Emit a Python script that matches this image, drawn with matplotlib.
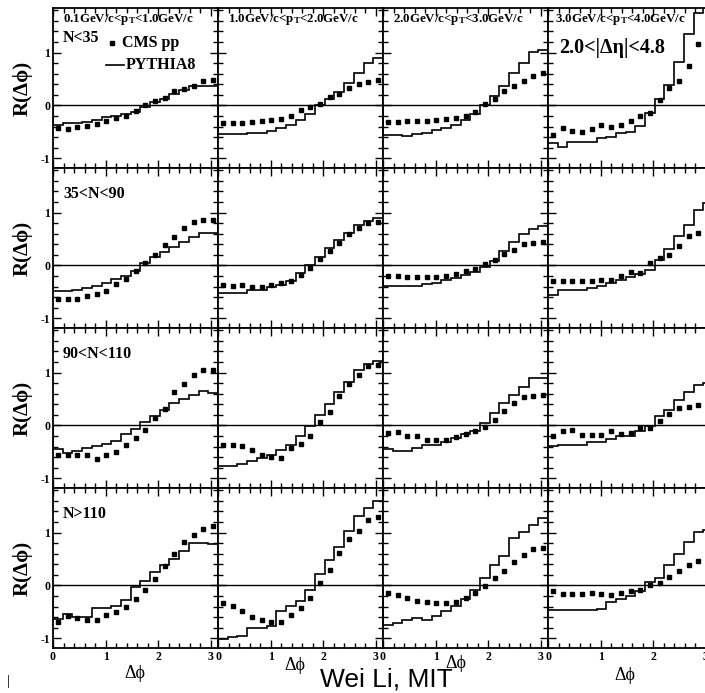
import numpy as np
import matplotlib
matplotlib.use("Agg")
import matplotlib.pyplot as plt
from matplotlib.ticker import MultipleLocator, FixedLocator

plt.rcParams['font.family'] = ['Liberation Serif', 'DejaVu Serif']
plt.rcParams['font.weight'] = 'bold'
plt.rcParams['axes.unicode_minus'] = False
plt.rcParams['mathtext.fontset'] = 'custom'
plt.rcParams['mathtext.rm'] = 'Liberation Serif:bold'
plt.rcParams['mathtext.bf'] = 'Liberation Serif:bold'
plt.rcParams['mathtext.it'] = 'Liberation Serif:bold:italic'

# ---------------- data ----------------
n_bins = 17
dphi_edges = np.linspace(0.0, np.pi, n_bins + 1)
dphi_centers = 0.5 * (dphi_edges[:-1] + dphi_edges[1:])

pt_labels = ["0.1GeV/c<p$_{\\rm T}$<1.0GeV/c", "1.0GeV/c<p$_{\\rm T}$<2.0GeV/c",
             "2.0GeV/c<p$_{\\rm T}$<3.0GeV/c", "3.0GeV/c<p$_{\\rm T}$<4.0GeV/c"]
mult_labels = ["N<35", "35<N<90", "90<N<110", "N>110"]
eta_label = "2.0<|\u0394\u03b7|<4.8"
dphi_text = "\u0394\u03d5"
ylabel_text = "R(\u0394\u03d5)"

# row 1 : N<35
cms_r1_c1 = [-0.43, -0.44, -0.41, -0.39, -0.35, -0.29, -0.23, -0.19, -0.11, 0.01, 0.09, 0.14, 0.28, 0.31, 0.36, 0.46, 0.48]
py_r1_c1 = [-0.37, -0.34, -0.34, -0.31, -0.28, -0.22, -0.19, -0.17, -0.12, -0.02, 0.06, 0.12, 0.22, 0.29, 0.37, 0.37, 0.37]
cms_r1_c2 = [-0.34, -0.33, -0.33, -0.31, -0.29, -0.28, -0.25, -0.19, -0.09, -0.03, 0.03, 0.16, 0.22, 0.33, 0.40, 0.45, 0.49]
py_r1_c2 = [-0.54, -0.54, -0.54, -0.52, -0.52, -0.48, -0.43, -0.37, -0.27, -0.16, 0.00, 0.12, 0.25, 0.42, 0.62, 0.80, 0.90]
cms_r1_c3 = [-0.31, -0.31, -0.30, -0.30, -0.29, -0.28, -0.26, -0.23, -0.19, -0.12, 0.02, 0.12, 0.27, 0.37, 0.47, 0.56, 0.62]
py_r1_c3 = [-0.55, -0.55, -0.57, -0.54, -0.52, -0.47, -0.43, -0.37, -0.28, -0.17, 0.01, 0.18, 0.37, 0.62, 0.81, 1.01, 1.04]
cms_r1_c4 = [-0.55, -0.43, -0.49, -0.50, -0.44, -0.37, -0.40, -0.36, -0.30, -0.19, -0.15, 0.10, 0.33, 0.47, 0.75, 1.16, 1.16]
py_r1_c4 = [-0.70, -0.78, -0.68, -0.68, -0.68, -0.62, -0.60, -0.52, -0.50, -0.38, -0.15, 0.12, 0.38, 0.82, 1.35, 1.75, 1.90]

# row 2 : 35<N<90
cms_r2_c1 = [-0.63, -0.63, -0.63, -0.57, -0.54, -0.48, -0.35, -0.25, -0.10, 0.05, 0.19, 0.38, 0.54, 0.70, 0.83, 0.86, 0.86]
py_r2_c1 = [-0.48, -0.48, -0.46, -0.43, -0.38, -0.33, -0.26, -0.19, -0.10, 0.05, 0.16, 0.25, 0.35, 0.44, 0.54, 0.62, 0.62]
cms_r2_c2 = [-0.37, -0.38, -0.37, -0.40, -0.40, -0.37, -0.33, -0.30, -0.18, -0.05, 0.13, 0.27, 0.43, 0.59, 0.70, 0.80, 0.83]
py_r2_c2 = [-0.52, -0.52, -0.52, -0.46, -0.46, -0.41, -0.37, -0.29, -0.14, 0.01, 0.16, 0.33, 0.48, 0.62, 0.76, 0.84, 0.89]
cms_r2_c3 = [-0.19, -0.20, -0.21, -0.21, -0.21, -0.21, -0.19, -0.17, -0.11, -0.06, 0.02, 0.11, 0.21, 0.29, 0.40, 0.42, 0.45]
py_r2_c3 = [-0.38, -0.38, -0.38, -0.38, -0.35, -0.33, -0.27, -0.24, -0.18, -0.12, -0.03, 0.08, 0.27, 0.45, 0.59, 0.68, 0.75]
cms_r2_c4 = [-0.29, -0.30, -0.29, -0.29, -0.30, -0.27, -0.27, -0.20, -0.12, -0.14, 0.05, 0.15, 0.20, 0.37, 0.56, 0.61, 0.63]
py_r2_c4 = [-0.55, -0.46, -0.46, -0.46, -0.42, -0.39, -0.33, -0.27, -0.21, -0.17, -0.08, 0.11, 0.31, 0.56, 0.77, 1.04, 1.17]

# row 3 : 90<N<110
cms_r3_c1 = [-0.56, -0.56, -0.56, -0.56, -0.63, -0.56, -0.50, -0.37, -0.23, -0.09, 0.14, 0.31, 0.64, 0.79, 0.95, 1.04, 1.05]
py_r3_c1 = [-0.45, -0.51, -0.48, -0.43, -0.38, -0.35, -0.29, -0.17, -0.07, 0.06, 0.17, 0.30, 0.42, 0.50, 0.58, 0.65, 0.62]
cms_r3_c2 = [-0.37, -0.36, -0.39, -0.47, -0.55, -0.60, -0.61, -0.42, -0.35, -0.19, 0.06, 0.25, 0.56, 0.79, 0.96, 1.12, 1.14]
py_r3_c2 = [-0.76, -0.76, -0.73, -0.67, -0.61, -0.55, -0.47, -0.37, -0.19, -0.01, 0.19, 0.40, 0.63, 0.82, 1.04, 1.16, 1.22]
cms_r3_c3 = [-0.14, -0.12, -0.20, -0.20, -0.27, -0.27, -0.28, -0.22, -0.16, -0.11, -0.03, 0.11, 0.27, 0.42, 0.53, 0.55, 0.58]
py_r3_c3 = [-0.45, -0.48, -0.48, -0.42, -0.37, -0.37, -0.32, -0.24, -0.17, -0.11, 0.05, 0.24, 0.42, 0.58, 0.73, 0.89, 0.89]
cms_r3_c4 = [-0.20, -0.11, -0.09, -0.18, -0.18, -0.18, -0.11, -0.16, -0.14, -0.04, -0.04, 0.08, 0.22, 0.33, 0.34, 0.38, 0.42]
py_r3_c4 = [-0.39, -0.36, -0.36, -0.36, -0.32, -0.32, -0.26, -0.20, -0.20, -0.11, -0.01, 0.17, 0.30, 0.48, 0.64, 0.76, 0.80]

# row 4 : N>110
cms_r4_c1 = [-0.69, -0.57, -0.61, -0.65, -0.65, -0.55, -0.50, -0.40, -0.25, -0.08, 0.13, 0.36, 0.60, 0.82, 0.96, 1.07, 1.12]
py_r4_c1 = [-0.63, -0.54, -0.60, -0.60, -0.42, -0.42, -0.38, -0.27, -0.03, 0.09, 0.25, 0.38, 0.50, 0.66, 0.80, 0.80, 0.79]
cms_r4_c2 = [-0.34, -0.38, -0.49, -0.59, -0.65, -0.68, -0.68, -0.55, -0.42, -0.23, 0.04, 0.30, 0.62, 0.87, 1.03, 1.24, 1.30]
py_r4_c2 = [-1.01, -0.97, -0.95, -0.80, -0.80, -0.77, -0.49, -0.39, -0.30, -0.08, 0.21, 0.49, 0.72, 1.03, 1.32, 1.47, 1.60]
cms_r4_c3 = [-0.14, -0.18, -0.23, -0.29, -0.31, -0.34, -0.34, -0.31, -0.23, -0.14, -0.01, 0.15, 0.27, 0.44, 0.57, 0.68, 0.71]
py_r4_c3 = [-0.75, -0.71, -0.65, -0.62, -0.65, -0.57, -0.49, -0.38, -0.25, -0.09, 0.14, 0.38, 0.56, 0.89, 1.01, 1.14, 1.27]
cms_r4_c4 = [-0.11, -0.16, -0.16, -0.16, -0.14, -0.16, -0.18, -0.14, -0.11, -0.08, 0.00, 0.05, 0.16, 0.28, 0.38, 0.47, 0.43]
py_r4_c4 = [-0.46, -0.46, -0.47, -0.47, -0.47, -0.44, -0.32, -0.25, -0.19, -0.11, 0.06, 0.14, 0.38, 0.60, 0.82, 1.01, 1.04]

cms_data = [[cms_r1_c1, cms_r1_c2, cms_r1_c3, cms_r1_c4],
            [cms_r2_c1, cms_r2_c2, cms_r2_c3, cms_r2_c4],
            [cms_r3_c1, cms_r3_c2, cms_r3_c3, cms_r3_c4],
            [cms_r4_c1, cms_r4_c2, cms_r4_c3, cms_r4_c4]]
py_data = [[py_r1_c1, py_r1_c2, py_r1_c3, py_r1_c4],
           [py_r2_c1, py_r2_c2, py_r2_c3, py_r2_c4],
           [py_r3_c1, py_r3_c2, py_r3_c3, py_r3_c4],
           [py_r4_c1, py_r4_c2, py_r4_c3, py_r4_c4]]

y_ticks = [-1, 0, 1]
x_ticks = [0, 1, 2, 3]

# ---------------- figure ----------------
W, H = 705, 693
fig = plt.figure(figsize=(W / 100, H / 100), dpi=100)
fig.patch.set_facecolor('white')

col_left = [53, 218, 383, 548]
col_w = 165
row_top = [8, 168, 328, 488]
row_h = 160

for r in range(4):
    for c in range(4):
        ax = fig.add_axes([col_left[c] / W, 1 - (row_top[r] + row_h) / H, col_w / W, row_h / H])
        ax.set_xlim(0, np.pi)
        ax.set_ylim(-1.18, 1.84)
        ax.axhline(0, color='black', lw=1.0, zorder=1)
        ax.stairs(py_data[r][c], dphi_edges, color='black', lw=1.2, zorder=2)
        ax.plot(dphi_centers, cms_data[r][c], 's', color='black', ms=3.5, zorder=3)
        for s in ax.spines.values():
            s.set_linewidth(1.3)
        ax.xaxis.set_major_locator(FixedLocator(x_ticks))
        ax.xaxis.set_minor_locator(MultipleLocator(0.2))
        ax.yaxis.set_major_locator(FixedLocator(y_ticks))
        ax.yaxis.set_minor_locator(MultipleLocator(0.2))
        ax.tick_params(which='both', direction='in', top=True, right=True,
                       labelsize=8.5, pad=2, width=1.0)
        ax.tick_params(which='major', length=6)
        ax.tick_params(which='minor', length=3.5)
        if c == 0:
            ax.set_yticklabels([str(v) for v in y_ticks], fontweight='bold')
            ax.set_ylabel(ylabel_text, fontsize=15, fontweight='bold', labelpad=6)
        else:
            ax.set_yticklabels([])
        if r == 3:
            ax.set_xticklabels([str(v) for v in x_ticks], fontweight='bold')
        else:
            ax.set_xticklabels([])
        if r == 0:
            ax.text(0.06 if c != 3 else 0.04, 0.93, pt_labels[c], transform=ax.transAxes,
                    fontsize=9.3, fontweight='bold', va='center', ha='left')
        if c == 0:
            ax.text(0.06, 0.81 if r == 0 else 0.84, mult_labels[r], transform=ax.transAxes,
                    fontsize=11.5, fontweight='bold', va='center', ha='left')
        if r == 0 and c == 0:
            ax.plot([0.36], [0.78], 's', color='black', ms=3.5, transform=ax.transAxes)
            ax.text(0.42, 0.78, "CMS pp", transform=ax.transAxes, fontsize=11.5,
                    fontweight='bold', va='center', ha='left')
            ax.plot([0.32, 0.43], [0.645, 0.645], color='black', lw=1.2, transform=ax.transAxes)
            ax.text(0.44, 0.645, "PYTHIA8", transform=ax.transAxes, fontsize=11.5,
                    fontweight='bold', va='center', ha='left')
        if r == 0 and c == 3:
            ax.text(0.07, 0.75, eta_label, transform=ax.transAxes, fontsize=14.5,
                    fontweight='bold', va='center', ha='left')

# bottom x-labels
dphi_label_pos = [(135, 673), (295, 665), (456, 663), (625, 675)]
for (px, py) in dphi_label_pos:
    fig.text(px / W, 1 - py / H, dphi_text, fontsize=13, fontweight='normal',
             ha='center', va='center')

fig.text(386 / W, 1 - 679 / H, "Wei Li, MIT", fontsize=19, fontweight='normal',
         family=['Liberation Sans', 'DejaVu Sans'], ha='center', va='center')
fig.text(8 / W, 1 - 682 / H, "|", fontsize=11, fontweight='normal', ha='center', va='center')

fig.savefig("out.png", dpi=100, facecolor='white')
